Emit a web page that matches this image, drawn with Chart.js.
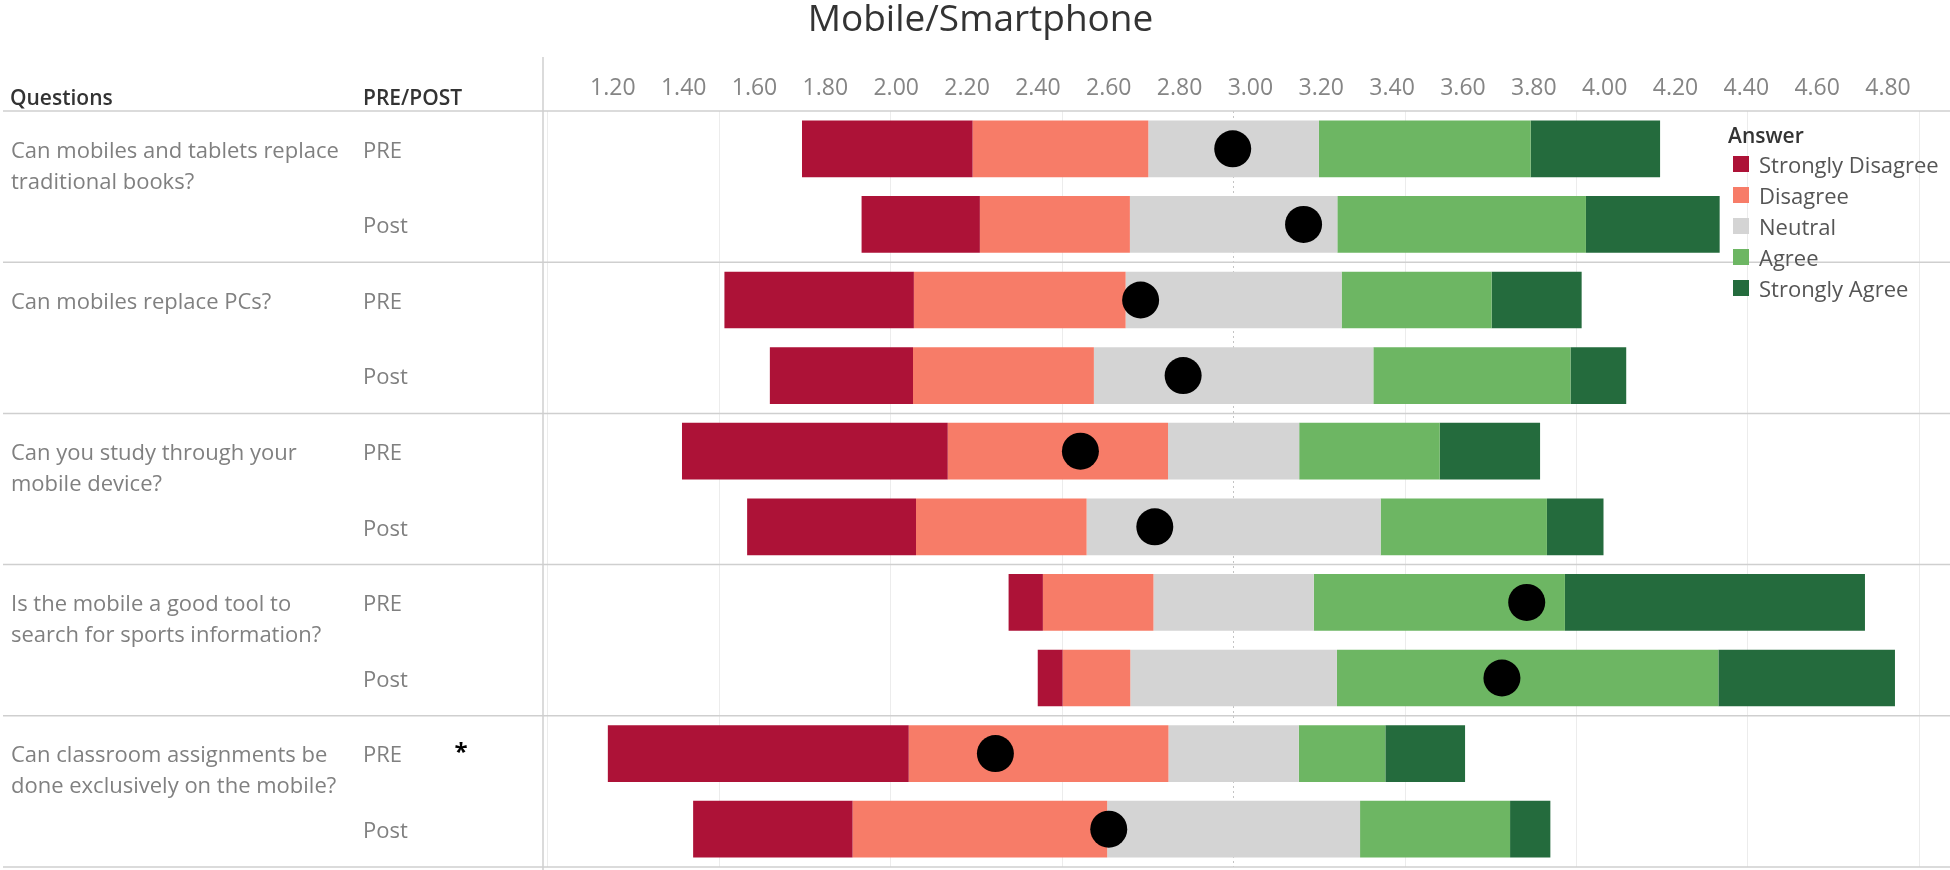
<!DOCTYPE html>
<html>
<head>
<meta charset="utf-8">
<script src="https://cdn.jsdelivr.net/npm/chart.js@4.4.1/dist/chart.umd.min.js"></script>
<style>
  html, body { margin: 0; padding: 0; background: #ffffff; }
  #wrap { position: relative; width: 1950px; height: 870px; overflow: hidden; font-family: 'Open Sans', sans-serif; }
  #c { position: absolute; left: 0; top: 0; }
  .hdr { position: absolute; font-size: 21px; font-weight: 600; color: #333333; line-height: 30px; white-space: nowrap; }
  #star { position: absolute; left: 446px; top: 739px; width: 30px; text-align: center; font-size: 24px; line-height: 24px; font-weight: 700; color: #000; }
  .lgTitle { position: absolute; left: 1728px; top: 120px; font-size: 21px; font-weight: 600; color: #333; line-height: 30px; white-space: nowrap; }
  .lgItem { position: absolute; left: 1733px; height: 31px; line-height: 31px; font-size: 22px; color: #555; white-space: nowrap; }
  .lgItem span.sw { position: absolute; left: 0; top: 7px; width: 16px; height: 16px; }
  .lgItem span.tx { position: absolute; left: 26px; top: 0; }
</style>
</head>
<body>
<div id="wrap">
  <canvas id="c" width="1950" height="870"></canvas>
  <div class="hdr" style="left:10px; top:82px;">Questions</div>
  <div class="hdr" style="left:363px; top:82px;">PRE/POST</div>
  <div id="star">*</div>
  <div class="lgTitle">Answer</div>
  <div id="legend"></div>
</div>
<script>
// ---------- DATA ----------
const questions = [
  ["Can mobiles and tablets replace", "traditional books?"],
  ["Can mobiles replace PCs?", ""],
  ["Can you study through your", "mobile device?"],
  ["Is the mobile a good tool to", "search for sports information?"],
  ["Can classroom assignments be", "done exclusively on the mobile?"]
];
const phases = ["PRE", "Post"];
const rowLabels = ["PRE", "Post", "PRE", "Post", "PRE", "Post", "PRE", "Post", "PRE", "Post"];

const answers = ["Strongly Disagree", "Disagree", "Neutral", "Agree", "Strongly Agree"];
const answerColors = ["#ad1237", "#f77c68", "#d4d4d4", "#6db663", "#246b3d"];

// percentage of answers per row (PRE/Post of each question)
const stronglyDisagree = [19.9, 13.8, 22.1, 16.7, 31.0, 19.7, 4.0, 2.9, 35.1, 18.6];
const disagree         = [20.5, 17.5, 24.7, 21.1, 25.7, 19.9, 12.9, 7.9, 30.3, 29.7];
const neutral          = [19.9, 24.2, 25.2, 32.6, 15.3, 34.3, 18.7, 24.1, 15.2, 29.5];
const agree            = [24.7, 29.0, 17.5, 23.0, 16.4, 19.4, 29.3, 44.5, 10.1, 17.5];
const stronglyAgree    = [15.1, 15.6, 10.5, 6.5, 11.7, 6.6, 35.0, 20.6, 9.3, 4.7];

// mean score per row (black dots, top axis)
const meanScore = [2.95, 3.15, 2.69, 2.81, 2.52, 2.73, 3.78, 3.71, 2.28, 2.60];

// axis definitions
const meanAxisMin = 1.0, meanAxisMax = 4.975, meanAxisStep = 0.2;
const pctAxisMin = -80.68, pctAxisMax = 83.57;
const pctGridLines = [-80, -60, -40, -20, 20, 40, 60, 80];
const pctCenterLine = [0];

// ---------- BUILD ----------
const segs = [stronglyDisagree, disagree, neutral, agree, stronglyAgree];
function floating(j) {
  return rowLabels.map((_, i) => {
    let lo = -(stronglyDisagree[i] + disagree[i] + neutral[i] / 2);
    for (let k = 0; k < j; k++) lo += segs[k][i];
    return [lo, lo + segs[j][i]];
  });
}
const questionTicks = [];
questions.forEach(q => { questionTicks.push(q); questionTicks.push([]); });

const datasets = [{
  type: 'scatter',
  label: 'Mean',
  data: meanScore.map((v, i) => ({ x: v, y: i })),
  xAxisID: 'x',
  yAxisID: 'y',
  pointRadius: 18.5,
  pointHoverRadius: 18.5,
  pointBackgroundColor: '#000000',
  pointBorderWidth: 0,
  order: 0
}];
answers.forEach((a, j) => {
  datasets.push({
    type: 'bar',
    label: a,
    data: floating(j),
    backgroundColor: answerColors[j],
    borderWidth: 0,
    borderSkipped: false,
    xAxisID: 'x2',
    yAxisID: 'y',
    barPercentage: 0.75,
    categoryPercentage: 1.0,
    grouped: false,
    order: 1
  });
});

// legend (html)
const lg = document.getElementById('legend');
answers.forEach((a, j) => {
  const d = document.createElement('div');
  d.className = 'lgItem';
  d.style.top = (149 + j * 31) + 'px';
  d.innerHTML = '<span class="sw" style="background:' + answerColors[j] + '"></span><span class="tx">' + a + '</span>';
  lg.appendChild(d);
});

const TITLE_H = 37 * 1.1;

function noPad(s) { s.paddingTop = 0; s.paddingBottom = 0; s.paddingLeft = 0; s.paddingRight = 0; }

const framePlugin = {
  id: 'frame',
  beforeDatasetsDraw(chart) {
    const { ctx, chartArea, scales } = chart;
    const y = scales.y;
    const half = (y.getPixelForValue(1) - y.getPixelForValue(0)) / 2;
    ctx.save();
    ctx.strokeStyle = '#cfcfcf';
    ctx.lineWidth = 1.5;
    for (let i = 0; i <= rowLabels.length; i += phases.length) {
      const py = i < rowLabels.length ? y.getPixelForValue(i) - half : y.getPixelForValue(i - 1) + half;
      ctx.beginPath();
      ctx.moveTo(3, py);
      ctx.lineTo(chart.width, py);
      ctx.stroke();
    }
    ctx.beginPath();
    ctx.moveTo(chartArea.left + 1, 57);
    ctx.lineTo(chartArea.left + 1, chart.height);
    ctx.stroke();
    ctx.restore();
  }
};

Chart.defaults.font.family = "'Open Sans', sans-serif";

new Chart(document.getElementById('c'), {
  type: 'bar',
  data: { labels: rowLabels, datasets: datasets },
  plugins: [framePlugin],
  options: {
    indexAxis: 'y',
    responsive: false,
    devicePixelRatio: 1,
    animation: false,
    layout: { autoPadding: false, padding: { left: 11, right: 0, top: 0, bottom: 3 } },
    plugins: {
      legend: { display: false },
      tooltip: { enabled: false },
      title: {
        display: true,
        text: 'Mobile/Smartphone',
        color: '#333333',
        font: { size: 37, weight: 'normal', lineHeight: 1.1 },
        padding: { top: 0, bottom: 0 }
      }
    },
    scales: {
      x: {
        type: 'linear',
        position: 'top',
        min: meanAxisMin,
        max: meanAxisMax,
        grid: { display: false, drawTicks: false },
        border: { display: false },
        ticks: {
          stepSize: meanAxisStep,
          autoSkip: false,
          maxRotation: 0,
          includeBounds: false,
          padding: 9,
          color: '#858585',
          font: { size: 23 },
          callback: v => (v < meanAxisMin + meanAxisStep / 2 ? '' : Number(v).toFixed(2))
        },
        afterFit: s => { s.height = 111 - TITLE_H; noPad(s); }
      },
      x2: {
        type: 'linear',
        position: 'bottom',
        min: pctAxisMin,
        max: pctAxisMax,
        ticks: { display: false },
        grid: { color: '#ececec', lineWidth: 1, drawTicks: false },
        border: { display: false },
        afterBuildTicks: s => { s.ticks = pctGridLines.map(v => ({ value: v })); },
        afterFit: s => { s.height = 0; noPad(s); }
      },
      x3: {
        type: 'linear',
        position: 'bottom',
        min: pctAxisMin,
        max: pctAxisMax,
        ticks: { display: false },
        grid: { color: '#c4c4c4', lineWidth: 1, drawTicks: false },
        border: { display: false, dash: [2, 3] },
        afterBuildTicks: s => { s.ticks = pctCenterLine.map(v => ({ value: v })); },
        afterFit: s => { s.height = 0; noPad(s); }
      },
      y: {
        type: 'category',
        position: 'left',
        labels: rowLabels,
        offset: true,
        weight: 0,
        grid: { display: false },
        border: { display: false },
        ticks: { crossAlign: 'far', padding: 0, labelOffset: 2.5, color: '#808080', font: { size: 22 } },
        afterFit: s => { s.width = 179; noPad(s); }
      },
      y2: {
        type: 'category',
        position: 'left',
        labels: questionTicks,
        offset: true,
        weight: 1,
        grid: { display: false },
        border: { display: false },
        ticks: { crossAlign: 'far', padding: 0, labelOffset: 18, autoSkip: false, color: '#808080', font: { size: 22, lineHeight: 31 / 22 } },
        afterFit: s => { s.width = 352; noPad(s); }
      }
    }
  }
});
</script>
</body>
</html>
